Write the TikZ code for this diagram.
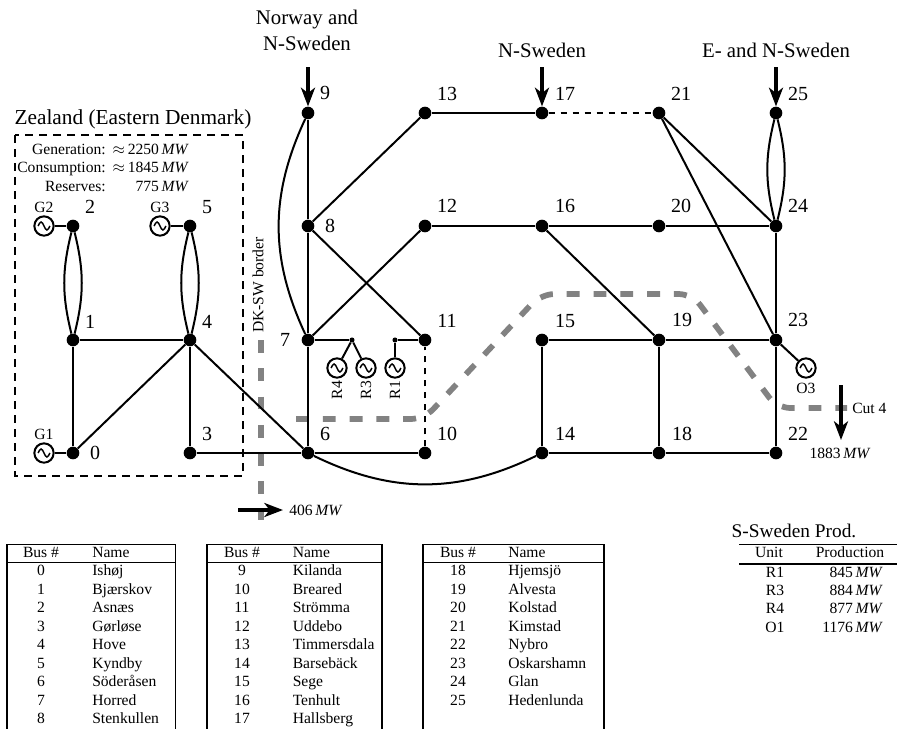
\documentclass[tikz,border=0pt]{standalone}
\usepackage{fontspec}
\setmainfont{Liberation Serif}
\usetikzlibrary{arrows.meta}
\definecolor{cutgray}{RGB}{130,130,130}
\newcommand{\MW}{\,\textit{MW}}
\tikzset{
  wire/.style={line width=1.5pt},
  wire dash/.style={wire,dash pattern=on 4.5pt off 4.5pt},
  bus/.style={circle,fill=black,inner sep=0pt,minimum size=9.5pt},
  junction/.style={circle,fill=black,inner sep=0pt,minimum size=3.8pt},
  gen/.style={circle,draw,line width=1.5pt,fill=white,inner sep=0pt,minimum size=14.5pt,
    path picture={\draw[line width=1.1pt] (path picture bounding box.center) ++(-4.4pt,0)
      sin ++(2.2pt,3pt) cos ++(2.2pt,-3pt) sin ++(2.2pt,-3pt) cos ++(2.2pt,3pt);}},
  flow/.style={-{Stealth[length=14pt,width=10.5pt,inset=4pt]},line width=3.6pt},
  cut/.style={draw=cutgray,line width=4.3pt,dash pattern=on 9.7pt off 10.4pt},
  buslabel/.style={font=\fontsize{15}{18}\selectfont,inner sep=0pt},
  region/.style={font=\fontsize{15.6}{19.5}\selectfont,align=center,inner sep=0pt},
  small/.style={font=\fontsize{11.7}{14}\selectfont,inner sep=0pt},
  cell/.style={small,anchor=base},
  name cell/.style={small,anchor=base west},
  frame/.style={line width=.8pt},
}
\begin{document}
\begin{tikzpicture}[x=0.75pt,y=0.75pt]
  \useasboundingbox (0,0) rectangle (897,-729);
  % cuts go below the lines
  \coordinate (dkTop) at (261,-340);
  \coordinate (dkEnd) at (261,-520);
  \draw[cut,dash pattern=on 9.6pt off 11.6pt] (dkTop) -- (dkEnd);
  \coordinate (cutA) at (296,-419);
  \coordinate (cutE) at (847,-408);
  \draw[cut,rounded corners=10pt] (cutA) -- (424,-419) -- (541,-294) -- (692,-294) -- (777,-408) -- (cutE);
  % buses
  \foreach \n/\x/\y/\lx/\ly in {0/73/453/22/0,1/73/340/17/18,2/73/226/17/19,3/190/453/17/19,
    4/190/340/17/18,5/190/226/17/19,6/308/453/17/19,7/308/340/-23/0,8/308/226/22/0,
    9/308/113/17/20,10/425/453/22/19,11/425/340/22/19,12/425/226/22/20,13/425/113/22/19,
    14/542/453/23/19,15/542/340/23/19,16/542/226/23/20,17/542/113/23/19,18/659/453/23/19,
    19/659/340/23/20,20/659/226/22/20,21/659/113/22/19,22/776/453/22/19,23/776/340/22/20,
    24/776/226/22/20,25/776/113/22/19}{
    \node[bus] (b\n) at (\x,-\y) {};
    \node[buslabel] (l\n) at (\x+\lx,-\y+\ly) {\n};
  }
  % lines
  \foreach \a/\b in {0/1,0/4,1/4,3/4,3/6,4/6,6/7,6/10,7/8,7/12,8/9,8/11,8/13,12/16,13/17,
    14/15,14/18,15/19,16/19,16/20,18/19,18/22,19/23,20/24,21/24,21/23,22/23,23/24}
    \draw[wire] (b\a) -- (b\b);
  \draw[wire dash] (b10) -- (b11);
  \draw[wire dash] (b17) -- (b21);
  \foreach \a/\b in {2/1,5/4,25/24}{
    \draw[wire] (b\a) to[bend left=14] (b\b);
    \draw[wire] (b\a) to[bend right=14] (b\b);
  }
  \draw[wire] (b9) to[bend right=25] (b7);
  \draw[wire] (b6) to[bend right=26] (b14);
  % generators
  \foreach \g/\x/\y/\b/\lx/\ly in {G1/44/453/0/0/19,G2/44/226/2/0/19,G3/160/226/5/0/19,O3/806/368/23/0/-20}{
    \node[gen] (g\g) at (\x,-\y) {};
    \node[small] (l\g) at (\x+\lx,-\y+\ly) {\g};
    \draw[wire] (g\g) -- (b\b);
  }
  \node[junction] (j7) at (352,-340) {};
  \node[junction] (j11) at (395,-340) {};
  \draw[wire] (b7) -- (j7);
  \draw[wire] (b11) -- (j11);
  \foreach \g/\x/\j in {R4/337/j7,R3/366/j7,R1/395/j11}{
    \node[gen] (g\g) at (\x,-368) {};
    \node[small,rotate=90] (l\g) at (\x,-390) {\g};
    \draw[wire] (g\g) -- (\j);
  }
  % in- and outflows
  \foreach \x/\b in {308/9,542/17,776/25}{
    \coordinate (in\b) at (\x,-67);
    \draw[flow] (in\b) -- (b\b);
  }
  \node[region] (rNorway) at (307,-30) {Norway and\\N-Sweden};
  \node[region] (rNorth) at (542,-50) {N-Sweden};
  \node[region] (rEast) at (776,-50) {E- and N-Sweden};
  \coordinate (dkA) at (238,-510);
  \coordinate (dkB) at (283,-510);
  \draw[flow] (dkA) -- (dkB);
  \node[small,anchor=west] (dkFlow) at (289,-510) {406\MW};
  \node[small,rotate=90] (dkName) at (258,-285) {DK-SW border};
  \coordinate (cutTop) at (841,-385);
  \coordinate (cutTip) at (841,-440);
  \draw[flow] (cutTop) -- (cutTip);
  \node[small] (cutFlow) at (840,-453) {1883\MW};
  \node[small,anchor=west] (cutName) at (852,-408) {Cut 4};
  % Zealand
  \draw[line width=1.2pt,dash pattern=on 6pt off 4.5pt] (15,-135) rectangle (243,-476);
  \node[font=\fontsize{16}{19}\selectfont,inner sep=0pt] (zeeTitle) at (133,-119) {Zealand (Eastern Denmark)};
  \foreach \t/\v/\y in {Generation:/$\approx$\,2250/154,Consumption:/$\approx$\,1845/172.5,Reserves:/775/191}{
    \node[small,anchor=base east] (zt\y) at (106,-\y) {\t};
    \node[small,anchor=base east] (zv\y) at (189,-\y) {\v\MW};
  }
  % bus tables
  \foreach \l/\r/\c/\m in {7/175.5/41/92,207/382/242/292.5,423/604/458/508}{
    \draw[frame] (\l,-729) -- (\l,-544.5) -- (\r,-544.5) -- (\r,-729);
    \draw[frame] (\l,-562.5) -- (\r,-562.5);
    \node[cell] (hb\c) at (\c,-557.5) {Bus \#};
    \node[name cell] (hn\c) at (\m,-557.5) {Name};
  }
  \foreach \n/\t [count=\i from 0] in {0/Ishøj,1/Bjærskov,2/Asnæs,3/Gørløse,4/Hove,5/Kyndby,6/Söderåsen,7/Horred,8/Stenkullen}{
    \node[cell] (tn\n) at (41,-575.7-\i*18.5) {\n};
    \node[name cell] (tt\n) at (92,-575.7-\i*18.5) {\t};
  }
  \foreach \n/\t [count=\i from 0] in {9/Kilanda,10/Breared,11/Strömma,12/Uddebo,13/Timmersdala,14/Barsebäck,15/Sege,16/Tenhult,17/Hallsberg}{
    \node[cell] (tn\n) at (242,-575.7-\i*18.5) {\n};
    \node[name cell] (tt\n) at (292.5,-575.7-\i*18.5) {\t};
  }
  \foreach \n/\t [count=\i from 0] in {18/Hjemsjö,19/Alvesta,20/Kolstad,21/Kimstad,22/Nybro,23/Oskarshamn,24/Glan,25/Hedenlunda}{
    \node[cell] (tn\n) at (458,-575.7-\i*18.5) {\n};
    \node[name cell] (tt\n) at (508,-575.7-\i*18.5) {\t};
  }
  % production table
  \node[font=\fontsize{14.5}{17}\selectfont,inner sep=0pt,anchor=base] (prodTitle) at (794,-537) {S-Sweden Prod.};
  \draw[frame] (739,-544.5) -- (897,-544.5);
  \draw[frame] (739,-564) -- (897,-564);
  \node[cell] (prodUnit) at (769,-557.5) {Unit};
  \node[cell] (prodVal) at (850,-557.5) {Production};
  \foreach \u/\p [count=\i from 0] in {R1/845,R3/884,R4/877,O1/1176}{
    \node[cell] (pu\u) at (775,-577-\i*18.4) {\u};
    \node[small,anchor=base east] (pv\u) at (883,-577-\i*18.4) {\p\MW};
  }
\end{tikzpicture}
\end{document}
